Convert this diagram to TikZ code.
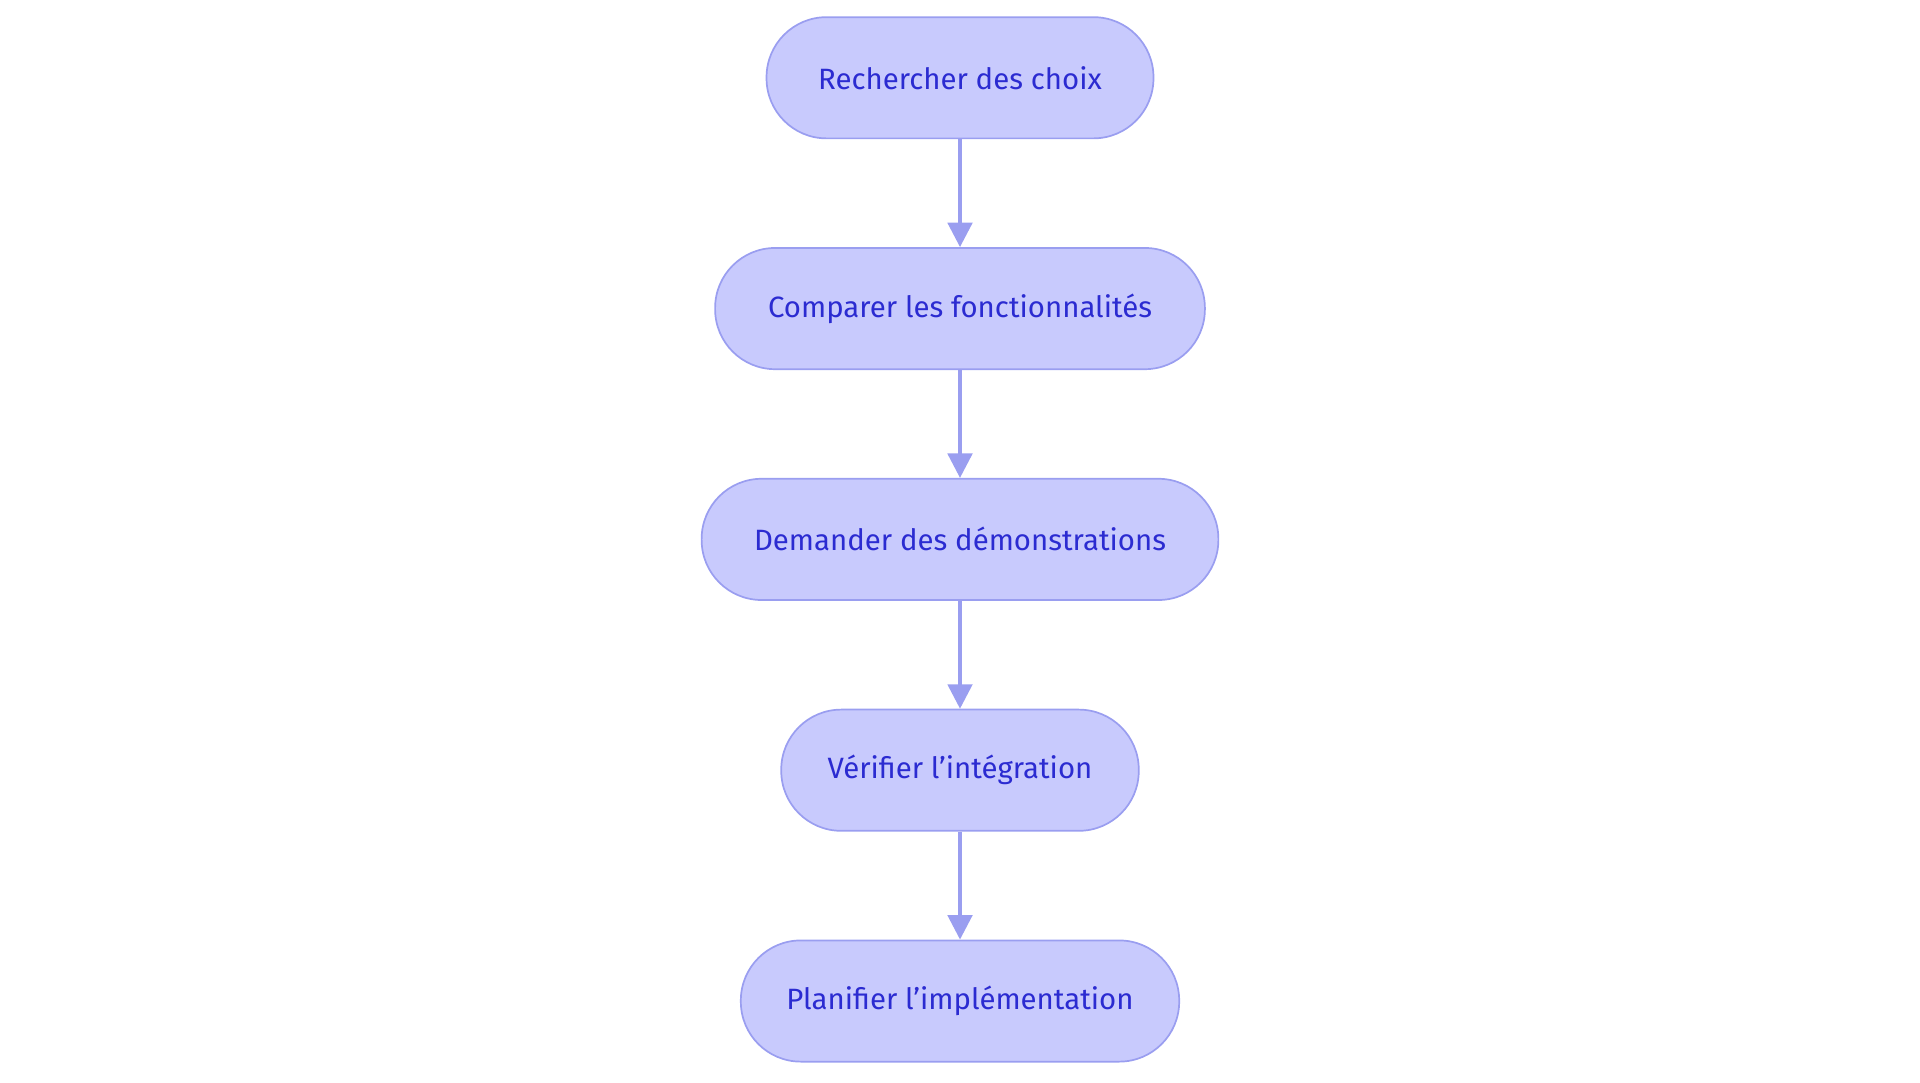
\documentclass[tikz,border=0pt]{standalone}
\usepackage{fontspec}
\setmainfont{Fira Sans}
\usetikzlibrary{arrows.meta}
\definecolor{nfill}{HTML}{C8CAFD}
\definecolor{nborder}{HTML}{9A9EF0}
\definecolor{ntext}{HTML}{2B2BD1}
\begin{document}
\begin{tikzpicture}[x=0.5pt,y=-0.5pt,
  box/.style={draw=nborder,fill=nfill,line width=0.7pt,rounded corners=24.5pt,
    minimum height=49.5pt,inner sep=0pt,text=ntext,font=\fontsize{12}{14}\selectfont},
  arr/.style={draw=nborder,line width=1.5pt,-{Triangle[length=10pt,width=10pt]}}]
\useasboundingbox (0,0) rectangle (1568,884);
\node[box,minimum width=158pt] (a) at (784,63.5) {Rechercher des choix};
\node[box,minimum width=200pt] (b) at (784,252) {Comparer les fonctionnalités};
\node[box,minimum width=211pt] (c) at (784,440.5) {Demander des démonstrations};
\node[box,minimum width=146pt] (d) at (784,629) {Vérifier l'intégration};
\node[box,minimum width=179pt] (e) at (784,817.5) {Planifier l'implémentation};
\draw[arr] (a) -- (b);
\draw[arr] (b) -- (c);
\draw[arr] (c) -- (d);
\draw[arr] (d) -- (e);
\end{tikzpicture}
\end{document}
